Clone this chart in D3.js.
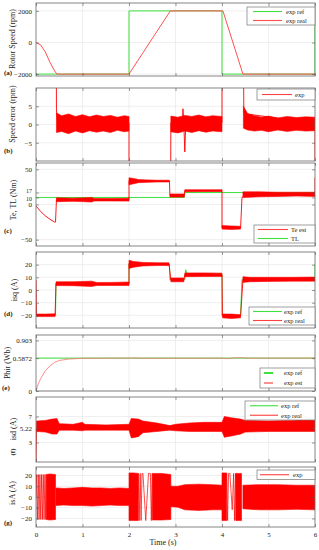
<!DOCTYPE html>
<html>
<head>
<meta charset="utf-8">
<script src="https://cdn.jsdelivr.net/npm/d3@7"></script>
<style>
  body { margin: 0; background: #fff; }
  text { font-family: "Liberation Serif", "DejaVu Serif", serif; fill: #222; }
</style>
</head>
<body>
<div id="chart"></div>
<script>
// ---- data ----
const timeTicks = [0, 1, 2, 3, 4, 5, 6];

// (a) rotor speed
const speedTicks = [-2000, 0, 2000];
const speedRefT = [0, 2, 2, 4, 4, 6, 6];
const speedRef = [-2000, -2000, 2000, 2000, -2000, -2000, 2000];
const speedRealT = [0, 0.1, 0.2, 0.3, 0.4, 0.45, 2.0, 2.3, 2.6, 2.89, 4.02, 4.45, 6];
const speedReal = [0, -150, -600, -1250, -1800, -2000, -2000, -650, 700, 2000, 2000, -2000, -2000];

// (b) speed error
const errTicks = [-5, 0, 5];
const errT = [0.43, 0.44, 0.46, 2.0, 2.0, 2.89, 2.9, 3.15, 3.16, 3.18, 3.2, 3.22, 4.0, 4.0, 4.45, 4.47, 6.0, 6.0];
const errVal = [40, 4, 1, 0.5, -40, -40, 0.5, 0.5, 4.3, 0, -7.5, 0, 0.5, 40, 40, 3, 0.3, -40];
const errBandT = [0.44, 0.55, 0.7, 0.85, 1.0, 1.15, 1.3, 1.45, 1.6, 1.75, 1.9, 2.0, null,
  2.9, 3.05, 3.2, 3.35, 3.5, 3.65, 3.8, 4.0, null,
  4.46, 4.55, 4.7, 4.85, 5.0, 5.2, 5.4, 5.6, 5.8, 6.0];
const errHi = [3.2, 2.4, 2.9, 2.2, 2.7, 2.1, 2.6, 2.2, 2.5, 2.0, 2.4, 2.2, null,
  2.3, 2.0, 2.5, 2.2, 2.6, 2.1, 2.4, 2.2, null,
  5.0, 3.0, 2.4, 2.0, 2.3, 1.8, 2.2, 1.9, 2.1, 2.0];
const errLo = [-2.2, -1.9, -2.5, -1.8, -2.3, -1.7, -2.1, -1.8, -2.2, -1.6, -2.0, -1.8, null,
  -2.0, -2.3, -1.8, -2.2, -1.7, -2.1, -1.8, -2.0, null,
  -1.0, -1.5, -1.8, -1.6, -2.0, -1.5, -1.9, -1.6, -1.8, -1.7];

// (c) electromagnetic torque and load torque
const teTicks = [-50, 0, 10, 17, 50];
const tlT = [0, 3.19, 3.19, 6];
const tlVal = [10, 10, 17, 17];
const teT = [0, 0.1, 0.2, 0.3, 0.4, 0.42, 0.44, 2.0, 2.0, 2.87, 2.88, 3.19, 3.2, 4.0, 4.0, 4.4, 4.43, 4.5, 6.0, 6.0];
const teVal = [-2, -10, -16, -21, -25, -25, 7, 7, 34, 33, 13, 13, 19.5, 19.5, -33, -33, 10, 14, 14, 38];
const teBandT = [0.44, 0.8, 1.2, 1.25, 1.6, 2.0, null, 2.0, 2.1, 2.2, 2.4, 2.6, 2.87, null,
  2.88, 3.0, 3.19, null, 3.2, 3.6, 4.0, null, 4.0, 4.2, 4.4, null, 4.45, 4.8, 5.2, 5.6, 6.0];
const teHi = [9.5, 9, 9.8, 8.5, 8.5, 8.8, null, 38, 37, 35.5, 35, 34.5, 34.5, null,
  15, 15, 15, null, 21, 21, 21, null, -30, -30.5, -31, null, 18, 18, 17.5, 17.5, 17.5];
const teLo = [4, 4.5, 3.5, 5, 5, 4.8, null, 28, 29.5, 31, 31.5, 32, 32, null,
  10.5, 10.5, 10.5, null, 18, 18.5, 18.5, null, -35, -35.5, -35, null, 10, 11, 11.5, 12, 11.5];

// (d) q-axis current
const isqTicks = [-20, -10, 0, 10, 20];
const isqRefT = [0, 0.42, 0.43, 2.0, 2.0, 2.87, 2.88, 3.2, 3.22, 3.25, 4.0, 4.0, 4.38, 4.4, 4.43, 6.0, 6.0];
const isqRef = [-20, -20, 5, 5, 20.5, 20.5, 8, 8, 16, 12.5, 12.5, -20, -20, -19, 8.5, 8.5, 20];
const isqT = [0, 0.01, 0.41, 0.43, 2.0, 2.0, 2.86, 2.9, 3.18, 3.2, 4.0, 4.01, 4.4, 4.45, 6.0];
const isqVal = [8, -20, -20, 5, 5, 21, 20.5, 8, 8, 12, 12, -20.5, -20.5, 8, 8.5];
const isqBandT = [0.01, 0.2, 0.41, null, 0.43, 0.8, 1.2, 1.3, 1.6, 2.0, null,
  2.0, 2.1, 2.3, 2.6, 2.86, null, 2.9, 3.18, null, 3.2, 3.6, 4.0, null,
  4.01, 4.2, 4.4, null, 4.45, 4.6, 5.0, 5.5, 6.0];
const isqHi = [-19, -19, -18.8, null, 6.5, 6.5, 7, 6, 6, 6.3, null,
  23.5, 22.5, 21.8, 21.5, 21.5, null, 9.5, 9.5, null, 13.5, 13.5, 13.3, null,
  -19, -19, -19.5, null, 10.5, 10, 10, 10, 10.2];
const isqLo = [-21, -21, -21, null, 3.5, 3.4, 2.8, 3.5, 3.6, 3.5, null,
  17, 18, 19, 19.3, 19.3, null, 6.5, 6.5, null, 10.5, 10.7, 10.7, null,
  -22, -22.5, -22, null, 6, 6.5, 6.8, 7, 7];

// (e) rotor flux
const phiTicks = [0, 0.5872, 0.903];
const phiRefT = [0, 6];
const phiRef = [0.5872, 0.5872];
const phiT = [0, 0.05, 0.1, 0.2, 0.3, 0.4, 0.5, 0.7, 1.0, 1.5, 2.0, 2.1, 2.3, 4.0, 4.1, 4.25, 4.4, 4.55, 6];
const phiVal = [0, 0.13, 0.22, 0.36, 0.45, 0.51, 0.545, 0.57, 0.583, 0.587, 0.587, 0.59, 0.585, 0.587, 0.578, 0.59, 0.595, 0.587, 0.587];

// (f) d-axis current
const isdTicks = [3, 5.22, 7];
const isdRefT = [0, 6];
const isdRef = [5.22, 5.22];
const isdT = [0, 0.01];
const isdVal = [0, 5.3];
const isdBandT = [0.01, 0.2, 0.35, 0.45, 0.5, 0.8, 1.0, 1.05, 1.5, 2.0, 2.05, 2.2, 2.3, 2.6, 2.88,
  3.0, 3.3, 3.6, 4.0, 4.05, 4.2, 4.4, 4.5, 5.0, 5.5, 5.9, 6.0];
const isdHi = [6.3, 6.4, 6.6, 6.7, 5.9, 5.8, 6.1, 5.8, 5.7, 5.8, 6.7, 6.6, 6.3, 6.0, 5.6,
  5.8, 6.0, 6.1, 6.1, 7.0, 6.8, 6.6, 6.4, 6.3, 6.4, 6.6, 6.4];
const isdLo = [4.7, 4.6, 4.3, 4.3, 4.9, 4.9, 4.8, 4.9, 4.9, 4.9, 3.7, 3.9, 4.5, 4.7, 4.9,
  4.8, 4.7, 4.7, 4.7, 3.8, 4.0, 4.3, 4.6, 4.7, 4.7, 4.7, 4.7];

// (g) phase current
const isaTicks = [-20, -10, 0, 10, 20];
const isaT = [0, 0.012, 0.03, 0.048, 0.066, 0.084, 0.102, 0.12, 0.138, 0.156, 0.174, 0.192, 0.21, 0.222, null,
  2.2, 2.22, 2.24, 2.26, 2.28, 2.3, 2.36, 2.42, 2.46, 2.48, 2.5, null,
  4.1, 4.12, 4.14, 4.17, 4.22, 4.25, 4.27, 4.29, 4.3];
const isaVal = [0, 21, -21, 21, -21, 21, -21, 21, -21, 21, -21, 21, -21, 21, null,
  22, -22, 22, -22, 22, 22, -22, 22, 22, -22, 22, null,
  22, -22, 22, 22, -12, 22, -22, 22, -22];
const isaBandT = [0.22, 0.3, 0.42, null, 0.43, 0.6, 0.8, 1.0, 1.2, 1.4, 1.6, 1.8, 2.0, null,
  2.0, 2.1, 2.2, null, 2.5, 2.7, 2.9, null, 2.9, 3.05, 3.2, 3.5, 3.8, 4.0, null,
  4.0, 4.1, null, 4.3, 4.42, null, 4.45, 4.8, 5.2, 5.6, 6.0];
const isaHi = [21, 21.5, 21, null, 8.5, 8, 8.5, 9, 8.5, 8.5, 8, 8.5, 8, null,
  22.5, 22.5, 22, null, 22, 22, 21, null, 10, 10, 11.5, 12, 11.5, 11, null,
  22.5, 22.5, null, 22, 22, null, 11, 11.5, 11.5, 11, 11];
const isaLo = [-21, -21.5, -21, null, -8, -7.5, -8, -8, -8.5, -8, -7.5, -8, -8, null,
  -22, -22, -22, null, -21.5, -21.5, -21, null, -9, -9.5, -12, -12.5, -12, -12, null,
  -22, -22, null, -22, -22, null, -11, -12, -12, -11.5, -12];

// ---- drawing ----
const width = 319, height = 550;
const RED = "#ff0000", GREEN = "#3ee03e";
const x = d3.scaleLinear().domain([0, 6]).range([36, 315]);

const zip = (ts, vs) => ts.map((t, i) => ({t: t, v: vs[i]}));
const zipBand = (ts, hi, lo) => ts.map((t, i) => ({t: t, hi: hi[i], lo: lo[i]}));

const panels = [
  {key: "a", top: 3, bottom: 76, domain: [-2120, 2500], ticks: speedTicks,
   title: "Rotor Speed (rpm)", titleX: 12, titleY: 39, letter: [4, 75],
   lines: [{d: zip(speedRefT, speedRef), c: GREEN, w: 1}, {d: zip(speedRealT, speedReal), c: "#ff5050", w: 1}],
   legend: {x: 247, y: 7, w: 68, h: 18, l0: 253, l1: 282, tx: 286,
            items: [{c: GREEN, s: "exp ref"}, {c: "#ff5050", s: "exp real"}]}},
  {key: "b", top: 88, bottom: 161, domain: [-10, 10], ticks: errTicks,
   title: "Speed error (rpm)", titleX: 12, titleY: 114, letter: [4, 153],
   bands: [{d: zipBand(errBandT, errHi, errLo), c: RED}],
   lines: [{d: zip(errT, errVal), c: RED, w: 0.9}],
   legend: {x: 257, y: 89, w: 58, h: 11, l0: 262, l1: 292, tx: 295,
            items: [{c: "#ff4040", s: "exp"}]}},
  {key: "c", top: 163, bottom: 246, domain: [-59, 59], ticks: teTicks,
   tickShift: {17: -1.5, 10: 1.5}, tickSize: {17: 6, 10: 6},
   title: "Te, TL (Nm)", titleX: 13, titleY: 200, letter: [4, 233],
   lines: [{d: zip(tlT, tlVal), c: GREEN, w: 1}, {d: zip(teT, teVal), c: RED, w: 0.9}],
   bands: [{d: zipBand(teBandT, teHi, teLo), c: RED}],
   legend: {x: 254, y: 225, w: 61, h: 18, l0: 258, l1: 288, tx: 291,
            items: [{c: "#ff4040", s: "Te est"}, {c: GREEN, s: "TL"}]}},
  {key: "d", top: 252, bottom: 328, domain: [-30, 30], ticks: isqTicks,
   title: "isq (A)", titleX: 14, titleY: 290, letter: [4, 316],
   lines: [{d: zip(isqRefT, isqRef), c: GREEN, w: 1}, {d: zip(isqT, isqVal), c: RED, w: 0.9}],
   bands: [{d: zipBand(isqBandT, isqHi, isqLo), c: RED}],
   legend: {x: 249, y: 307, w: 66, h: 18, l0: 253, l1: 282, tx: 284,
            items: [{c: GREEN, s: "exp ref"}, {c: "#ff4040", s: "exp real"}]}},
  {key: "e", top: 335, bottom: 391, domain: [0, 1], ticks: phiTicks,
   title: "Phir (Wb)", titleX: 7, titleY: 363, letter: [2, 390],
   lines: [{d: zip(phiRefT, phiRef), c: GREEN, w: 1}, {d: zip(phiT, phiVal), c: "#ff7070", w: 1, o: 0.8}],
   legend: {x: 260, y: 368, w: 55, h: 20, l0: 264, l1: 273, tx: 284, thick: 2,
            items: [{c: GREEN, s: "exp ref"}, {c: "#ff9090", s: "exp est"}]}},
  {key: "f", top: 397, bottom: 462, domain: [0, 10], ticks: isdTicks,
   title: "isd (A)", titleX: 13, titleY: 429, letterRot: [13, 452],
   lines: [{d: zip(isdRefT, isdRef), c: GREEN, w: 1}, {d: zip(isdT, isdVal), c: RED, w: 0.9}],
   bands: [{d: zipBand(isdBandT, isdHi, isdLo), c: RED}],
   legend: {x: 245, y: 401, w: 70, h: 19, l0: 250, l1: 278, tx: 281,
            items: [{c: GREEN, s: "exp ref"}, {c: "#ff4040", s: "exp real"}]}},
  {key: "g", top: 467, bottom: 527, domain: [-28, 28], ticks: isaTicks,
   title: "isA (A)", titleX: 12, titleY: 493, letter: [4, 525],
   bands: [{d: zipBand(isaBandT, isaHi, isaLo), c: RED}],
   lines: [{d: zip(isaT, isaVal), c: RED, w: 0.7}],
   legend: {x: 257, y: 470, w: 58, h: 9.5, l0: 260, l1: 289, tx: 293,
            items: [{c: "#ff4040", s: "exp"}]}, xLabels: true}
];

const fmt = d => d < 0 ? "\u2212" + Math.abs(d) : String(d);

const svg = d3.select("#chart").append("svg")
    .attr("width", width)
    .attr("height", height);

panels.forEach(p => {
  const y = d3.scaleLinear().domain(p.domain).range([p.bottom, p.top]);
  const g = svg.append("g");

  g.append("clipPath").attr("id", "clip-" + p.key)
    .append("rect")
      .attr("x", x(0)).attr("y", p.top)
      .attr("width", x(6) - x(0)).attr("height", p.bottom - p.top);

  // grid
  g.append("g").selectAll("line").data(timeTicks.slice(1, -1)).join("line")
      .attr("x1", d => x(d)).attr("x2", d => x(d))
      .attr("y1", p.top).attr("y2", p.bottom)
      .attr("stroke", "#e4e4e4").attr("stroke-width", 0.6);
  g.append("g").selectAll("line").data(p.ticks).join("line")
      .attr("x1", x(0)).attr("x2", x(6))
      .attr("y1", d => y(d)).attr("y2", d => y(d))
      .attr("stroke", "#e4e4e4").attr("stroke-width", 0.6);

  const plot = g.append("g").attr("clip-path", "url(#clip-" + p.key + ")");
  const line = d3.line().defined(d => d.t !== null).x(d => x(d.t)).y(d => y(d.v));
  const area = d3.area().defined(d => d.t !== null)
      .x(d => x(d.t)).y0(d => y(d.lo)).y1(d => y(d.hi));

  // green references first, red traces on top
  (p.lines || []).filter(l => l.c === GREEN).forEach(l => {
    plot.append("path").attr("d", line(l.d)).attr("fill", "none")
        .attr("stroke", l.c).attr("stroke-width", l.w);
  });
  (p.bands || []).forEach(b => {
    plot.append("path").attr("d", area(b.d))
        .attr("fill", b.c).attr("stroke", b.c).attr("stroke-width", 0.6);
  });
  (p.lines || []).filter(l => l.c !== GREEN).forEach(l => {
    plot.append("path").attr("d", line(l.d)).attr("fill", "none")
        .attr("stroke", l.c).attr("stroke-width", l.w)
        .attr("stroke-opacity", l.o || 1);
  });

  // axes, ticks inside the box
  const axL = g.append("g").attr("transform", `translate(${x(0)},0)`)
      .call(d3.axisLeft(y).tickValues(p.ticks).tickSize(-3).tickPadding(4).tickFormat(fmt));
  const axR = g.append("g").attr("transform", `translate(${x(6)},0)`)
      .call(d3.axisRight(y).tickValues(p.ticks).tickSize(-3).tickFormat(""));
  const axT = g.append("g").attr("transform", `translate(0,${p.top})`)
      .call(d3.axisTop(x).tickValues(timeTicks).tickSize(-3).tickFormat(""));
  const axB = g.append("g").attr("transform", `translate(0,${p.bottom})`)
      .call(d3.axisBottom(x).tickValues(timeTicks).tickSize(-3).tickPadding(5)
            .tickFormat(p.xLabels ? d3.format("d") : ""));
  [axL, axR, axT, axB].forEach(a => {
    a.select(".domain").remove();
    a.selectAll(".tick line").attr("stroke", "#555").attr("stroke-width", 0.6);
    a.selectAll("text").attr("font-size", 7).attr("font-family", "Liberation Serif, serif").attr("fill", "#222");
  });
  if (p.tickShift) {
    axL.selectAll(".tick text")
        .attr("y", d => p.tickShift[d] || 0)
        .attr("font-size", d => (p.tickSize && p.tickSize[d]) || 7);
  }
  g.append("rect")
      .attr("x", x(0)).attr("y", p.top)
      .attr("width", x(6) - x(0)).attr("height", p.bottom - p.top)
      .attr("fill", "none").attr("stroke", "#666").attr("stroke-width", 0.8);

  // y title
  g.append("text")
      .attr("transform", `translate(${p.titleX},${p.titleY}) rotate(-90)`)
      .attr("text-anchor", "middle").attr("dy", "0.35em")
      .attr("font-size", 8).text(p.title);

  // panel letter
  if (p.letter) {
    g.append("text").attr("x", p.letter[0]).attr("y", p.letter[1])
        .attr("font-size", 7).attr("font-weight", "bold").text("(" + p.key + ")");
  } else if (p.letterRot) {
    g.append("text")
        .attr("transform", `translate(${p.letterRot[0]},${p.letterRot[1]}) rotate(-90)`)
        .attr("text-anchor", "middle").attr("dy", "0.35em")
        .attr("font-size", 7).attr("font-weight", "bold").text("(" + p.key + ")");
  }

  // legend
  const L = p.legend;
  const lg = g.append("g");
  lg.append("rect").attr("x", L.x).attr("y", L.y).attr("width", L.w).attr("height", L.h)
      .attr("fill", "#fff").attr("stroke", "#777").attr("stroke-width", 0.7);
  const rowH = L.h / L.items.length;
  L.items.forEach((it, i) => {
    const cy = L.y + rowH * (i + 0.5);
    lg.append("line").attr("x1", L.l0).attr("x2", L.l1).attr("y1", cy).attr("y2", cy)
        .attr("stroke", it.c).attr("stroke-width", L.thick || 1.1);
    lg.append("text").attr("x", L.tx).attr("y", cy).attr("dy", "0.35em")
        .attr("font-size", 6.5).text(it.s);
  });
});

svg.append("text")
    .attr("x", 163).attr("y", 545)
    .attr("text-anchor", "middle")
    .attr("font-size", 8).text("Time (s)");
</script>
</body>
</html>
